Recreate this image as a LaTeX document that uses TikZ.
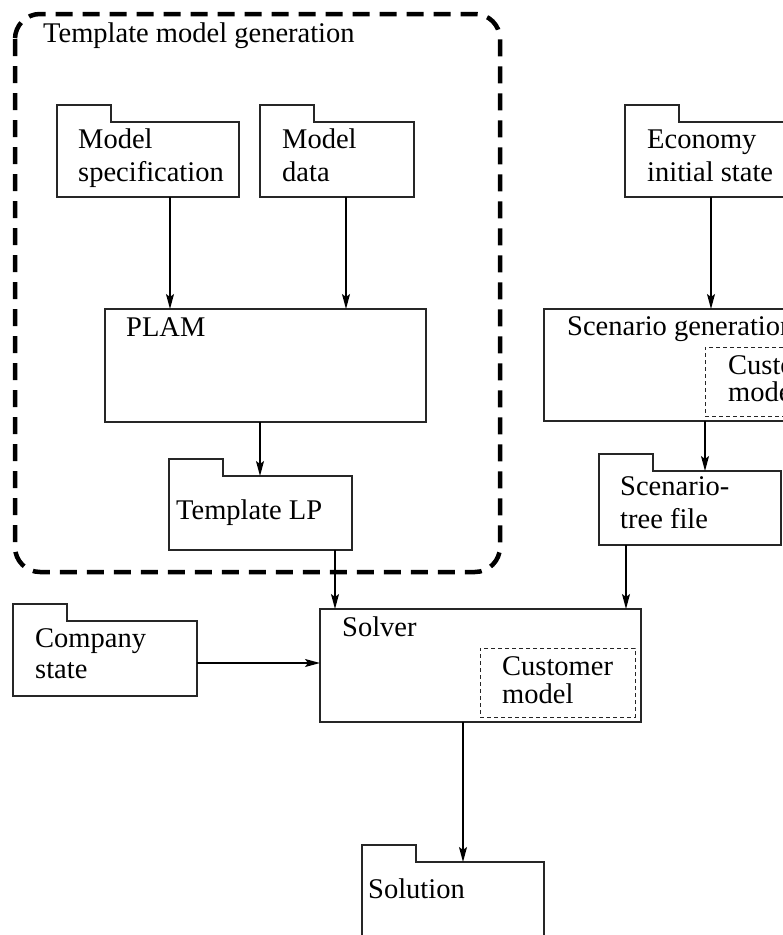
\documentclass[tikz,border=0pt]{standalone}
\usepackage{fontspec}
\setmainfont{Liberation Serif}
\usetikzlibrary{arrows.meta}

% two lines of text, first baseline at the node's base, given line distance
\newcommand\lstack[3]{\vtop{\baselineskip=#1pt\hbox{#2}\hbox{#3}}}

\begin{document}
\begin{tikzpicture}[x=1pt,y=-1pt,
  outline/.style={draw=black!85, line width=1.4pt, line join=miter},
  body/.style={inner sep=0, anchor=north west, outer sep=0},
  procbox/.style={body, outline},
  innerbox/.style={body, draw=black!85, line width=1pt, dash pattern=on 4pt off 3pt},
  label/.style={inner sep=0, anchor=base west, font=\fontsize{28.5}{33}\selectfont},
  arr/.style={line width=1.3pt, -{Stealth[length=15pt,width=8pt,inset=3pt]}},
  group/.style={draw=black, line width=4.5pt, dash pattern=on 17pt off 10pt, rounded corners=25pt}
]
\useasboundingbox (0,0) rectangle (783,935);
\clip (0,0) rectangle (783,935);

% folder outline: body with a tab on its upper left edge
\newcommand\foldertab[1]{%
  \draw[outline] (#1.south west) -- (#1.north west) -- ++(0,-17) -- ++(54,0)
    -- ++(0,17) -- (#1.north east) -- (#1.south east) -- cycle;}

% ---- template model generation group
\draw[group] (15,14) rectangle (500,572);
\node[label] (tmg) at (43,42) {Template model generation};

% ---- folders (data)
\node[body, minimum width=182pt, minimum height=75pt] (ms) at (57,122) {};
\foldertab{ms}
\node[label] (mst) at (78,148) {\lstack{33}{Model}{specification}};

\node[body, minimum width=154pt, minimum height=75pt] (md) at (260,122) {};
\foldertab{md}
\node[label] (mdt) at (282,148) {\lstack{33}{Model}{data}};

\node[body, minimum width=200pt, minimum height=75pt] (ec) at (625,122) {};
\foldertab{ec}
\node[label] (ect) at (647,148) {\lstack{33}{Economy}{initial state}};

\node[body, minimum width=183pt, minimum height=74pt] (tlp) at (169,476) {};
\foldertab{tlp}
\node[label] (tlpt) at (176,519) {Template LP};

\node[body, minimum width=182pt, minimum height=74pt] (stf) at (599,471) {};
\foldertab{stf}
\node[label] (stft) at (620,495) {\lstack{33}{Scenario-}{tree file}};

\node[body, minimum width=184pt, minimum height=75pt] (cs) at (13,621) {};
\foldertab{cs}
\node[label] (cst) at (35,647) {\lstack{31}{Company}{state}};

\node[body, minimum width=182pt, minimum height=100pt] (sol) at (362,862) {};
\foldertab{sol}
\node[label] (solt) at (368,898) {Solution};

% ---- processes
\node[procbox, minimum width=321pt, minimum height=113pt] (plam) at (105,309) {};
\node[label] (plamt) at (126,336) {PLAM};

\node[procbox, minimum width=280pt, minimum height=112pt] (sg) at (544,309) {};
\node[label] (sgt) at (567,335) {Scenario generation};
\node[innerbox, minimum width=120pt, minimum height=69pt] (sgcm) at (705,347) {};
\node[label] (sgcmt) at (728,374) {\lstack{27}{Customer}{model}};

\node[procbox, minimum width=321pt, minimum height=113pt] (solver) at (320,609) {};
\node[label] (solvert) at (342,636) {Solver};
\node[innerbox, minimum width=155pt, minimum height=69pt] (slcm) at (480,648) {};
\node[label] (slcmt) at (502,675) {\lstack{28}{Customer}{model}};

% ---- flows
\draw[arr] (ms.south -| 170,0) -- (plam.north -| 170,0);
\draw[arr] (md.south -| 346,0) -- (plam.north -| 346,0);
\draw[arr] (plam.south -| 260,0) -- (tlp.north -| 260,0);
\draw[arr] (tlp.south -| 335,0) -- (solver.north -| 335,0);
\draw[arr] (ec.south -| 711,0) -- (sg.north -| 711,0);
\draw[arr] (sg.south -| 705,0) -- (stf.north -| 705,0);
\draw[arr] (stf.south -| 626,0) -- (solver.north -| 626,0);
\draw[arr] (cs.east |- 0,663) -- (solver.west |- 0,663);
\draw[arr] (solver.south -| 463,0) -- (sol.north -| 463,0);
\end{tikzpicture}
\end{document}
